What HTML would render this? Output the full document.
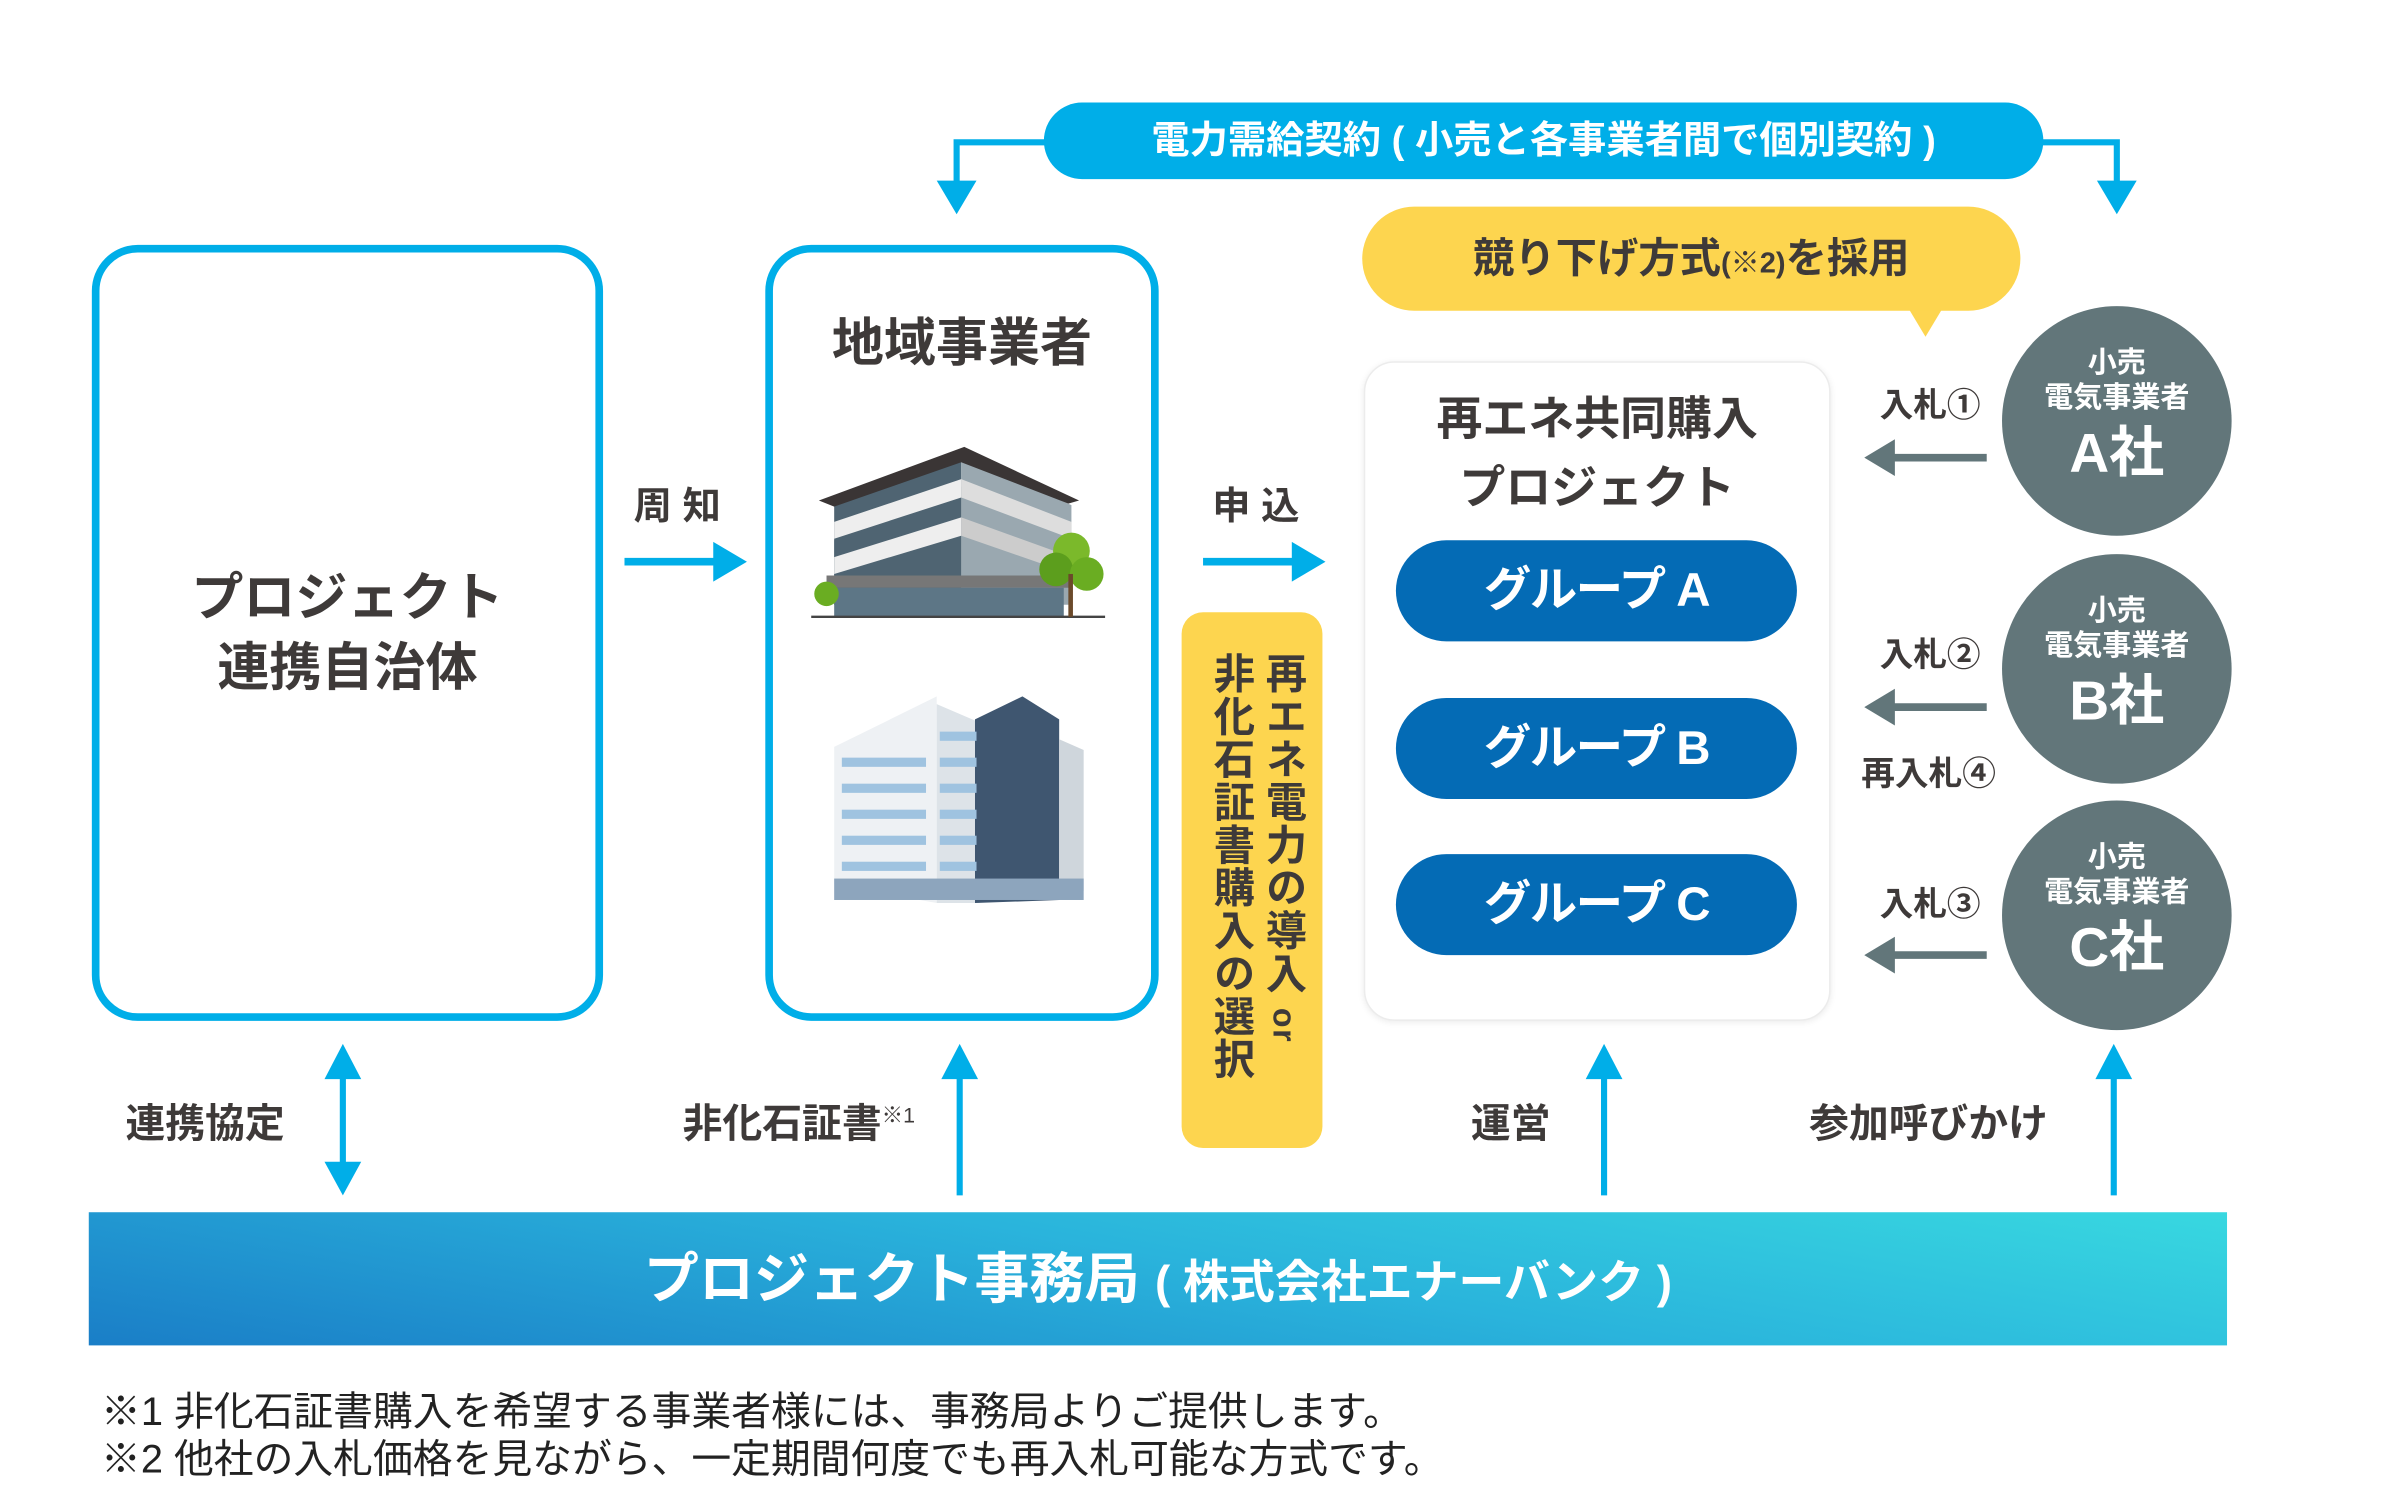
<!DOCTYPE html>
<html><head><meta charset="utf-8">
<style>
html,body{margin:0;padding:0;background:#fff;width:2400px;height:1501px;overflow:hidden}
#w{position:absolute;left:0;top:0;width:1552px;height:981px;transform:scale(1.5306);transform-origin:0 0;font-family:"Liberation Sans","Noto Sans CJK JP",sans-serif;color:#3e3a39;font-weight:bold}
.a{position:absolute}
.c{position:absolute;text-align:center;white-space:nowrap}
.box{position:absolute;border:5px solid #00aee8;border-radius:30px;box-sizing:border-box;background:#fff}
.grp{position:absolute;left:912px;width:262px;height:66px;border-radius:33px;background:#046bb5;color:#fff;font-size:31px;line-height:66px;text-align:center;letter-spacing:-1px}
.cir{position:absolute;left:1308px;width:150px;height:150px;border-radius:50%;background:#62767a;color:#fff;text-align:center}
.cir .s{font-size:19px;line-height:23px}
.cir .s1{margin-top:26px}
.cir .b{font-size:36px;line-height:48px}
.lbl{position:absolute;font-size:23px;white-space:nowrap}
.fn{position:absolute;left:66px;font-size:26px;font-weight:normal;color:#222;white-space:nowrap}
</style></head><body><div id="w">

<svg class="a" style="left:0;top:0" width="1552" height="971">
<polyline points="690,93 625,93 625,122" fill="none" stroke="#00aee8" stroke-width="4"/>
<polygon points="612,118 638,118 625,140" fill="#00aee8"/>
<polyline points="1330,93 1383,93 1383,122" fill="none" stroke="#00aee8" stroke-width="4"/>
<polygon points="1370,118 1396,118 1383,140" fill="#00aee8"/>
<polygon points="1246,200 1270,200 1258,220" fill="#fdd54f"/>
<line x1="408" y1="367" x2="470" y2="367" stroke="#00aee8" stroke-width="5"/>
<polygon points="466,354 488,367 466,380" fill="#00aee8"/>
<line x1="786" y1="367" x2="848" y2="367" stroke="#00aee8" stroke-width="5"/>
<polygon points="844,354 866,367 844,380" fill="#00aee8"/>
<g fill="#62767a" stroke="#62767a">
<line x1="1236" y1="299" x2="1298" y2="299" stroke-width="5"/><polygon points="1218,299 1238,287 1238,311" stroke="none"/>
<line x1="1236" y1="462" x2="1298" y2="462" stroke-width="5"/><polygon points="1218,462 1238,450 1238,474" stroke="none"/>
<line x1="1236" y1="624" x2="1298" y2="624" stroke-width="5"/><polygon points="1218,624 1238,612 1238,636" stroke="none"/>
</g>
<g fill="#00aee8" stroke="#00aee8">
<line x1="224" y1="700" x2="224" y2="764" stroke-width="4"/>
<polygon points="212,705 236,705 224,682" stroke="none"/><polygon points="212,759 236,759 224,781" stroke="none"/>
<line x1="627" y1="700" x2="627" y2="781" stroke-width="4"/><polygon points="615,705 639,705 627,682" stroke="none"/>
<line x1="1048" y1="700" x2="1048" y2="781" stroke-width="4"/><polygon points="1036,705 1060,705 1048,682" stroke="none"/>
<line x1="1381" y1="700" x2="1381" y2="781" stroke-width="4"/><polygon points="1369,705 1393,705 1381,682" stroke="none"/>
</g>
<g>
<polygon points="545,353 628,318 700,353 700,395 545,395" fill="#8a97a0"/>
<polygon points="545,330 628,298 628,395 545,395" fill="#4f6472"/>
<polygon points="628,298 700,330 700,395 628,395" fill="#9aa8b0"/>
<polygon points="545,341 628,313 628,325 545,352" fill="#eee"/>
<polygon points="628,313 700,341 700,352 628,325" fill="#ddd"/>
<polygon points="545,364 628,338 628,350 545,375" fill="#eee"/>
<polygon points="628,338 700,364 700,375 628,350" fill="#ccc"/>
<polygon points="535,327 630,292 705,327 698,329 628,302 545,331" fill="#3a3535"/>
<rect x="540" y="376" width="160" height="8" fill="#777"/>
<rect x="545" y="384" width="150" height="19" fill="#5d7686"/>
<line x1="530" y1="403" x2="722" y2="403" stroke="#444" stroke-width="1.5"/>
<circle cx="700" cy="360" r="12" fill="#7bb92b"/><circle cx="690" cy="372" r="11" fill="#5c9e1d"/><circle cx="710" cy="375" r="11" fill="#6aad22"/>
<rect x="698" y="375" width="3" height="28" fill="#6b4a2b"/>
<circle cx="540" cy="388" r="8" fill="#6aad22"/>
</g>
<g>
<polygon points="545,488 612,455 612,590 545,578" fill="#eef1f4"/>
<polygon points="612,460 640,472 640,590 612,590" fill="#dde3e8"/>
<polygon points="637,470 668,455 692,470 692,588 637,590" fill="#3f5670"/>
<polygon points="692,483 708,490 708,582 692,584" fill="#cfd6dc"/>
<rect x="545" y="574" width="163" height="14" fill="#8da5bd"/>
<g fill="#9fc3e0">
<rect x="550" y="495" width="55" height="6"/><rect x="550" y="512" width="55" height="6"/><rect x="550" y="529" width="55" height="6"/><rect x="550" y="546" width="55" height="6"/><rect x="550" y="563" width="55" height="6"/>
<rect x="614" y="478" width="24" height="6"/><rect x="614" y="495" width="24" height="6"/><rect x="614" y="512" width="24" height="6"/><rect x="614" y="529" width="24" height="6"/><rect x="614" y="546" width="24" height="6"/><rect x="614" y="563" width="24" height="6"/>
</g>
</g>
</svg>

<div class="c" style="left:682px;top:67px;width:653px;height:50px;border-radius:25px;background:#00aee8;color:#fff;font-size:25px;line-height:50px">電力需給契約 ( 小売と各事業者間で個別契約 )</div>
<div class="c" style="left:890px;top:135px;width:430px;height:68px;border-radius:34px;background:#fdd54f;font-size:27px;line-height:68px">競り下げ方式<span style="font-size:19px">(※2)</span>を採用</div>

<div class="box" style="left:60px;top:160px;width:334px;height:507px"></div>
<div class="c" style="left:60px;top:368px;width:334px;font-size:34px;line-height:46px">プロジェクト<br>連携自治体</div>

<div class="box" style="left:500px;top:160px;width:257px;height:507px;background:transparent"></div>
<div class="c" style="left:500px;top:202px;width:257px;font-size:34px;line-height:46px">地域事業者</div>

<div class="lbl" style="left:414px;top:311px;font-size:25px">周 知</div>
<div class="lbl" style="left:792px;top:311px;font-size:25px">申 込</div>

<div class="a" style="left:772px;top:400px;width:92px;height:350px;border-radius:14px;background:#fdd54f"></div>
<div class="a" style="left:787px;top:426px;writing-mode:vertical-rl;font-size:27px;line-height:34px;letter-spacing:1px;white-space:nowrap">再エネ電力の導入 <span style="font-size:21px">or</span><br>非化石証書購入の選択</div>

<div class="a" style="left:891px;top:236px;width:305px;height:431px;border-radius:20px;background:#fff;border:1px solid #ececec;box-shadow:0 1px 4px rgba(0,0,0,0.08);box-sizing:border-box"></div>
<div class="c" style="left:891px;top:252px;width:305px;font-size:30px;line-height:45px">再エネ共同購入<br>プロジェクト</div>
<div class="grp" style="top:353px">グループ A</div>
<div class="grp" style="top:456px">グループ B</div>
<div class="grp" style="top:558px">グループ C</div>

<div class="cir" style="top:200px"><div class="s s1">小売</div><div class="s">電気事業者</div><div class="b">A社</div></div>
<div class="cir" style="top:362px"><div class="s s1">小売</div><div class="s">電気事業者</div><div class="b">B社</div></div>
<div class="cir" style="top:523px"><div class="s s1">小売</div><div class="s">電気事業者</div><div class="b">C社</div></div>

<div class="lbl" style="left:1228px;top:247px;font-size:22px">入札①</div>
<div class="lbl" style="left:1228px;top:410px;font-size:22px">入札②</div>
<div class="lbl" style="left:1216px;top:488px;font-size:22px">再入札④</div>
<div class="lbl" style="left:1228px;top:573px;font-size:22px">入札③</div>

<div class="lbl" style="left:82px;top:714px;font-size:26px">連携協定</div>
<div class="lbl" style="left:446px;top:714px;font-size:26px">非化石証書<sup style="font-size:14px;font-weight:normal">※1</sup></div>
<div class="lbl" style="left:961px;top:714px;font-size:26px">運営</div>
<div class="lbl" style="left:1182px;top:714px;font-size:26px">参加呼びかけ</div>

<div class="c" style="left:58px;top:792px;width:1397px;height:87px;background:linear-gradient(10deg,#1a7ec7 0%,#2ab4dc 55%,#38d8e0 100%);color:#fff;font-size:36px;line-height:87px">プロジェクト事務局 <span style="font-size:30px">( 株式会社エナーバンク )</span></div>

<div class="fn" style="top:902px">※1 非化石証書購入を希望する事業者様には、事務局よりご提供します。</div>
<div class="fn" style="top:933px">※2 他社の入札価格を見ながら、一定期間何度でも再入札可能な方式です。</div>
</div></body></html>
